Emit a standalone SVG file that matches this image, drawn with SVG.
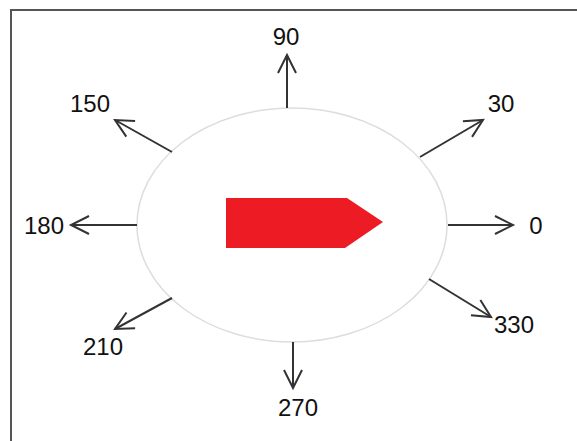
<svg xmlns="http://www.w3.org/2000/svg" width="577" height="441" viewBox="0 0 577 441">
<style>
.lbl{font-family:"Liberation Sans",Arial,sans-serif;font-size:24px;fill:#111;text-anchor:middle}
.arr{stroke:#333;stroke-width:2;fill:none;marker-end:url(#head)}
</style>
<defs>
<marker id="head" markerUnits="userSpaceOnUse" markerWidth="40" markerHeight="40" refX="0" refY="0" viewBox="-25 -20 40 40" orient="auto">
<path d="M-18,-9 L0,0 L-18,9" fill="none" stroke="#333" stroke-width="2"/>
</marker>
</defs>
<rect x="11" y="10" width="620" height="500" fill="#fff" stroke="#555" stroke-width="2"/>
<g id="ship">
<ellipse cx="292" cy="225" rx="155" ry="117" fill="#fff" stroke="#ddd" stroke-width="1.5"/>
<polygon points="226,198 347,198 383,222 345,248 226,248" fill="#ED1C24"/>
</g>
<g id="connectors">
<line class="arr" x1="448" y1="225" x2="513" y2="225"/>
<line class="arr" x1="420" y1="157" x2="483" y2="120"/>
<line class="arr" x1="287" y1="108" x2="287" y2="55"/>
<line class="arr" x1="172" y1="152" x2="115" y2="120"/>
<line class="arr" x1="137" y1="225" x2="71" y2="225"/>
<line class="arr" x1="172" y1="298" x2="115" y2="329"/>
<line class="arr" x1="293" y1="342" x2="293" y2="388"/>
<line class="arr" x1="429" y1="279" x2="491" y2="317"/>
</g>
<g id="labels">
<text id="l0" class="lbl" x="536" y="234">0</text>
<text id="l30" class="lbl" x="501" y="112">30</text>
<text id="l90" class="lbl" x="286" y="45">90</text>
<text id="l150" class="lbl" x="90" y="112">150</text>
<text id="l180" class="lbl" x="44" y="234">180</text>
<text id="l210" class="lbl" x="103" y="355">210</text>
<text id="l270" class="lbl" x="298" y="416">270</text>
<text id="l330" class="lbl" x="514" y="333">330</text>
</g>
</svg>
